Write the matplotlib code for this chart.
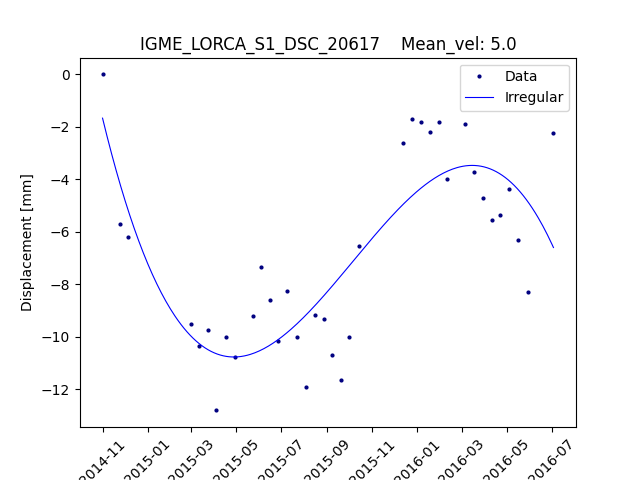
import matplotlib
matplotlib.use("Agg")
import matplotlib.pyplot as plt
import matplotlib.dates as mdates
import numpy as np
import pandas as pd

days = [0,23,35,119,131,143,154,167,179,203,215,226,238,250,263,275,287,299,310,322,334,347,
        406,418,431,443,455,466,491,503,515,527,538,550,562,575,610]
disp = [0,-5.7,-6.2,-9.5,-10.35,-9.75,-12.8,-10.0,-10.75,-9.2,-7.35,-8.6,-10.15,-8.25,-10.0,-11.9,
        -9.15,-9.3,-10.7,-11.65,-10.0,-6.55,-2.6,-1.7,-1.8,-2.2,-1.8,-4.0,-1.9,-3.7,-4.7,-5.55,
        -5.35,-4.35,-6.3,-8.3,-2.25]

start = pd.Timestamp("2014-11-01")
dates = [start + pd.Timedelta(days=d) for d in days]
d = np.array(days, float)
coef = np.polyfit(d, disp, 3)
fd = np.linspace(d.min(), d.max(), 300)
fdates = [start + pd.Timedelta(days=float(x)) for x in fd]

fig, ax = plt.subplots(figsize=(6.4, 4.8), dpi=100)
ax.plot(dates, disp, 'o', color='navy', markersize=2, label='Data')
ax.plot(fdates, np.polyval(coef, fd), color='blue', lw=0.8, label='Irregular')
ax.set_title("IGME_LORCA_S1_DSC_20617    Mean_vel: 5.0")
ax.set_ylabel("Displacement [mm]")
ax.xaxis.set_major_locator(mdates.MonthLocator(bymonth=[1,3,5,7,9,11]))
ax.xaxis.set_major_formatter(mdates.DateFormatter("%Y-%m"))
plt.setp(ax.get_xticklabels(), rotation=45)
ax.legend(loc='upper right')
fig.savefig("out.png")
